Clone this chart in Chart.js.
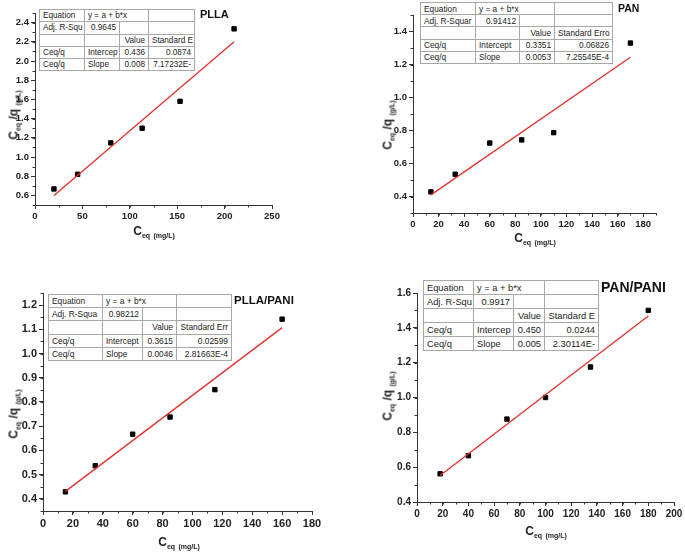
<!DOCTYPE html>
<html>
<head>
<meta charset="utf-8">
<script src="https://cdn.jsdelivr.net/npm/chart.js@4"></script>
<style>
    body { margin: 0; background: #fff; }
    #page { position: relative; width: 685px; height: 552px; overflow: hidden; font-family: "Liberation Sans", Arial, sans-serif; }
    canvas { position: absolute; }
    .fit-table { position: absolute; border-collapse: collapse; table-layout: fixed; background: #fff; color: #222; }
    .fit-table td { border: 1px solid #a8a8a8; padding: 0 3px; white-space: nowrap; overflow: hidden; }
    .fit-table td.num { text-align: right; }
    .panel-title { position: absolute; font-weight: bold; color: #111; white-space: nowrap; }
    .axis-title { position: absolute; font-weight: bold; color: #222; white-space: nowrap; font-size: 12px; }
    .axis-title sub { font-size: 7px; vertical-align: -3px; }
    .y-title { transform: translate(-50%, -50%) rotate(-90deg); }
    .x-title { transform: translate(-50%, -50%); }
</style>
</head>
<body>
<div id="page"></div>
<script>
// PLLA
const pllaX = [20, 45, 80, 113, 153, 210];
const pllaY = [0.667, 0.82, 1.147, 1.30, 1.58, 2.335];
const pllaFitX = [20, 210];
const pllaFitY = [0.60, 2.20];
const pllaXTicks = [0, 50, 100, 150, 200, 250];
const pllaYTicks = [0.6, 0.8, 1.0, 1.2, 1.4, 1.6, 1.8, 2.0, 2.2, 2.4];
// null = cell merged into the one on its left
const pllaTable = [
    ['Equation', 'y = a + b*x', null, ''],
    ['Adj. R-Squ', '0.9645', '', ''],
    ['', '', 'Value', 'Standard E'],
    ['Ceq/q', 'Intercep', '0.436', '0.0874'],
    ['Ceq/q', 'Slope', '0.008', '7.17232E-']
];

// PAN
const panX = [14, 33, 60, 85, 110, 170];
const panY = [0.428, 0.535, 0.724, 0.743, 0.787, 1.33];
const panFitX = [14, 170];
const panFitY = [0.41, 1.244];
const panXTicks = [0, 20, 40, 60, 80, 100, 120, 140, 160, 180];
const panYTicks = [0.4, 0.6, 0.8, 1.0, 1.2, 1.4];
const panTable = [
    ['Equation', 'y = a + b*x', null, ''],
    ['Adj. R-Squar', '0.91412', '', ''],
    ['', '', 'Value', 'Standard Erro'],
    ['Ceq/q', 'Intercept', '0.3351', '0.06826'],
    ['Ceq/q', 'Slope', '0.0053', '7.25545E-4']
];

// PLLA/PANI
const pllaPaniX = [15, 35, 60, 85, 115, 160];
const pllaPaniY = [0.429, 0.537, 0.667, 0.738, 0.851, 1.142];
const pllaPaniFitX = [15, 160];
const pllaPaniFitY = [0.431, 1.107];
const pllaPaniXTicks = [0, 20, 40, 60, 80, 100, 120, 140, 160, 180];
const pllaPaniYTicks = [0.4, 0.5, 0.6, 0.7, 0.8, 0.9, 1.0, 1.1, 1.2];
const pllaPaniTable = [
    ['Equation', 'y = a + b*x', null, ''],
    ['Adj. R-Squa', '0.98212', '', ''],
    ['', '', 'Value', 'Standard Err'],
    ['Ceq/q', 'Intercept', '0.3615', '0.02599'],
    ['Ceq/q', 'Slope', '0.0046', '2.81663E-4']
];

// PAN/PANI
const panPaniX = [18, 40, 70, 100, 135, 180];
const panPaniY = [0.562, 0.666, 0.876, 1.0, 1.175, 1.50];
const panPaniFitX = [18, 180];
const panPaniFitY = [0.552, 1.468];
const panPaniXTicks = [0, 20, 40, 60, 80, 100, 120, 140, 160, 180, 200];
const panPaniYTicks = [0.4, 0.6, 0.8, 1.0, 1.2, 1.4, 1.6];
const panPaniTable = [
    ['Equation', 'y = a + b*x', null, ''],
    ['Adj. R-Squ', '0.9917', '', ''],
    ['', '', 'Value', 'Standard E'],
    ['Ceq/q', 'Intercep', '0.450', '0.0244'],
    ['Ceq/q', 'Slope', '0.005', '2.30114E-']
];

const page = document.getElementById('page');
const PAD_L = 40, PAD_T = 10, PAD_R = 15, PAD_B = 25;

// short minor ticks between the labelled ones
const minorTicks = {
    id: 'minorTicks',
    afterDraw(chart) {
        const ctx = chart.ctx;
        ctx.save();
        ctx.strokeStyle = '#333';
        ctx.lineWidth = 1;
        ['x', 'y'].forEach(id => {
            const scale = chart.scales[id];
            const step = scale.options.minorStep;
            const n = Math.round((scale.max - scale.min) / step);
            for (let i = 0; i <= n; i++) {
                const v = scale.min + i * step;
                const p = Math.round(scale.getPixelForValue(v)) + 0.5;
                ctx.beginPath();
                if (id === 'x') {
                    ctx.moveTo(p, scale.top);
                    ctx.lineTo(p, scale.top + 2.5);
                } else {
                    ctx.moveTo(scale.right, p);
                    ctx.lineTo(scale.right - 2.5, p);
                }
                ctx.stroke();
            }
        });
        ctx.restore();
    }
};

function toPoints(xs, ys) {
    return xs.map((x, i) => ({ x: x, y: ys[i] }));
}

function axis(min, max, ticks, minorStep, decimals, fontSize, fitSize, isX) {
    return {
        type: 'linear',
        min: min,
        max: max,
        minorStep: minorStep,
        afterBuildTicks: scale => { scale.ticks = ticks.map(v => ({ value: v })); },
        afterFit: scale => {
            if (isX) scale.height = fitSize; else scale.width = fitSize;
        },
        border: { display: true, color: '#333', width: 1 },
        grid: { drawOnChartArea: false, drawTicks: true, tickLength: 4, tickColor: '#333' },
        ticks: {
            padding: 2,
            color: '#222',
            font: { family: 'Liberation Sans', size: fontSize, weight: 'bold' },
            callback: v => v.toFixed(decimals),
            maxRotation: 0,
            autoSkip: false
        }
    };
}

function makePanel(p) {
    const w = Math.round(p.plot.w), h = Math.round(p.plot.h);
    const canvas = document.createElement('canvas');
    canvas.width = w + PAD_L + PAD_R;
    canvas.height = h + PAD_T + PAD_B;
    canvas.style.left = (Math.round(p.plot.left) - PAD_L) + 'px';
    canvas.style.top = (Math.round(p.plot.top) - PAD_T) + 'px';
    page.appendChild(canvas);

    new Chart(canvas.getContext('2d'), {
        type: 'scatter',
        data: {
            datasets: [{
                data: toPoints(p.fitX, p.fitY),
                showLine: true,
                borderColor: '#e5302a',
                borderWidth: 1.3,
                pointRadius: 0
            }, {
                data: toPoints(p.x, p.y),
                pointStyle: 'rect',
                pointRadius: 3.1,
                backgroundColor: '#000',
                borderColor: '#000',
                borderWidth: 1
            }]
        },
        options: {
            responsive: false,
            animation: false,
            layout: { padding: { left: 0, top: PAD_T, right: PAD_R, bottom: 0 } },
            plugins: { legend: { display: false }, tooltip: { enabled: false } },
            scales: {
                x: axis(p.xRange[0], p.xRange[1], p.xTicks, p.xMinor, 0, p.font, PAD_B, true),
                y: axis(p.yRange[0], p.yRange[1], p.yTicks, p.yMinor, 1, p.font, PAD_L, false)
            }
        },
        plugins: [minorTicks]
    });

    // fit result table
    const t = document.createElement('table');
    t.className = 'fit-table';
    t.style.left = p.table.left + 'px';
    t.style.top = p.table.top + 'px';
    t.style.width = (p.table.cols[3] - p.table.left) + 'px';
    t.style.fontSize = p.table.font + 'px';
    const edges = [p.table.left].concat(p.table.cols);
    let html = '<colgroup>';
    for (let i = 0; i < 4; i++) html += '<col style="width:' + (edges[i + 1] - edges[i]) + 'px">';
    html += '</colgroup>';
    p.table.rows.forEach(row => {
        html += '<tr style="height:' + p.table.rowH + 'px">';
        row.forEach((c, i) => {
            if (c === null) return;
            const span = row[i + 1] === null ? ' colspan="2"' : '';
            const num = i >= 2 || (i === 1 && c && c[0] === '0');
            html += '<td' + span + (num ? ' class="num"' : '') + '>' + c + '</td>';
        });
        html += '</tr>';
    });
    t.innerHTML = html;
    page.appendChild(t);

    const title = document.createElement('div');
    title.className = 'panel-title';
    title.textContent = p.name;
    title.style.left = p.title.x + 'px';
    title.style.top = (p.title.y - p.title.size * 0.58) + 'px';
    title.style.fontSize = p.title.size + 'px';
    page.appendChild(title);

    const yt = document.createElement('div');
    yt.className = 'axis-title y-title';
    yt.innerHTML = 'C<sub>eq</sub> /q <sub>(g/L)</sub>';
    yt.style.left = p.yTitle[0] + 'px';
    yt.style.top = p.yTitle[1] + 'px';
    page.appendChild(yt);

    const xt = document.createElement('div');
    xt.className = 'axis-title x-title';
    xt.innerHTML = 'C<sub>eq</sub> <sub>(mg/L)</sub>';
    xt.style.left = p.xTitle[0] + 'px';
    xt.style.top = p.xTitle[1] + 'px';
    page.appendChild(xt);
}

makePanel({
    name: 'PLLA', x: pllaX, y: pllaY, fitX: pllaFitX, fitY: pllaFitY,
    xTicks: pllaXTicks, yTicks: pllaYTicks, xRange: [0, 250], yRange: [0.5, 2.5],
    xMinor: 25, yMinor: 0.1, font: 9.5,
    plot: { left: 35, top: 13, w: 237, h: 192 },
    table: { left: 39, top: 9, cols: [84, 119, 148, 194], rowH: 12.3, font: 8.2, rows: pllaTable },
    title: { x: 200, y: 14, size: 11 },
    yTitle: [14, 115], xTitle: [154, 231]
});

makePanel({
    name: 'PAN', x: panX, y: panY, fitX: panFitX, fitY: panFitY,
    xTicks: panXTicks, yTicks: panYTicks, xRange: [0, 190], yRange: [0.3, 1.5],
    xMinor: 10, yMinor: 0.1, font: 9.5,
    plot: { left: 413, top: 15, w: 243, h: 198 },
    table: { left: 420, top: 2, cols: [475, 519, 554, 612], rowH: 12.2, font: 8.3, rows: panTable },
    title: { x: 618, y: 8, size: 10.5 },
    yTitle: [388, 125], xTitle: [535, 238]
});

makePanel({
    name: 'PLLA/PANI', x: pllaPaniX, y: pllaPaniY, fitX: pllaPaniFitX, fitY: pllaPaniFitY,
    xTicks: pllaPaniXTicks, yTicks: pllaPaniYTicks, xRange: [0, 180], yRange: [0.35, 1.25],
    xMinor: 10, yMinor: 0.05, font: 11,
    plot: { left: 43, top: 293, w: 269, h: 218 },
    table: { left: 48, top: 294, cols: [102, 142, 176, 231], rowH: 13.2, font: 8.4, rows: pllaPaniTable },
    title: { x: 234, y: 301, size: 11.5 },
    yTitle: [14, 414], xTitle: [179, 542]
});

makePanel({
    name: 'PAN/PANI', x: panPaniX, y: panPaniY, fitX: panPaniFitX, fitY: panPaniFitY,
    xTicks: panPaniXTicks, yTicks: panPaniYTicks, xRange: [0, 200], yRange: [0.4, 1.6],
    xMinor: 10, yMinor: 0.1, font: 10,
    plot: { left: 417, top: 293, w: 257, h: 209 },
    table: { left: 423, top: 280, cols: [473, 513, 544, 598], rowH: 14, font: 9.3, rows: panPaniTable },
    title: { x: 601, y: 287, size: 14 },
    yTitle: [388, 396], xTitle: [546, 531]
});
</script>
</body>
</html>
